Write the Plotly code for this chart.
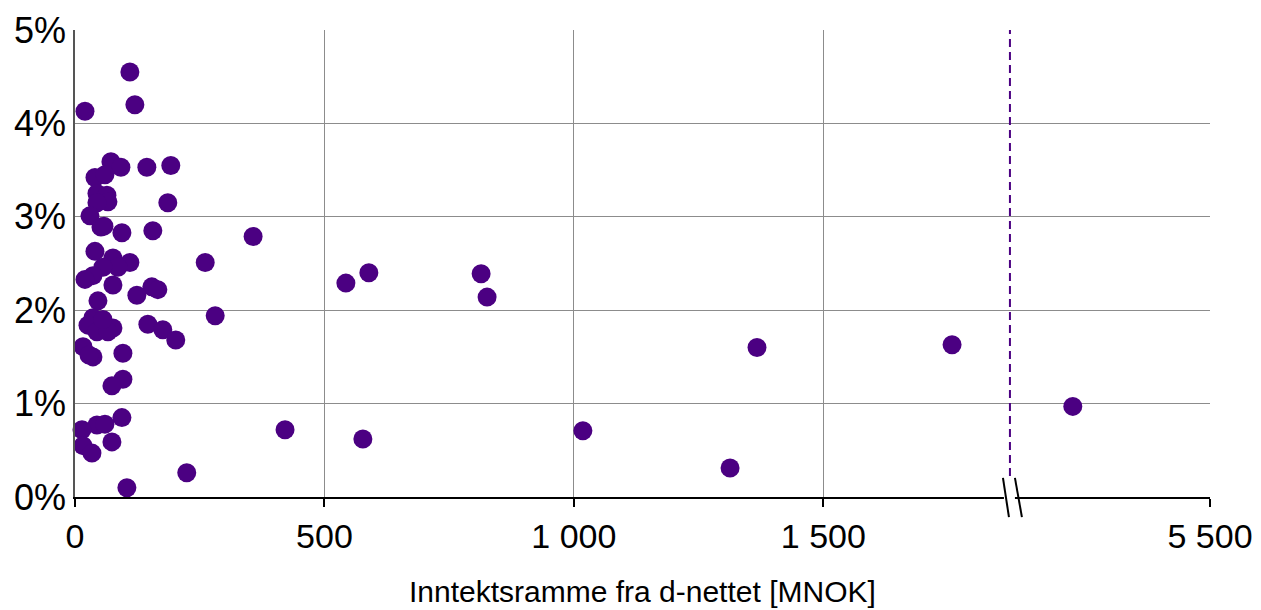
import plotly.graph_objects as go

# Inntektsramme (MNOK, axis units; values beyond the break are placed on the compressed segment)
x_vals = [20, 110, 120, 72, 92, 144, 192, 40, 60, 44, 64, 66, 44, 186, 30, 52, 58, 94, 156, 357,
          40, 261, 76, 110, 86, 56, 36, 20, 589, 814, 543, 826, 154, 166, 124, 76, 46, 281, 36, 146,
          176, 202, 26, 76, 44, 66, 56, 16, 36, 28, 96, 1367, 1758, 96, 74, 2000, 94, 44, 60, 421,
          1018, 14, 577, 74, 16, 34, 1313, 224, 104]
# Share in percent
y_vals = [4.13, 4.55, 4.20, 3.59, 3.53, 3.53, 3.55, 3.42, 3.45, 3.25, 3.23, 3.16, 3.15, 3.15, 3.01, 2.89, 2.90, 2.83, 2.85, 2.79,
          2.63, 2.51, 2.56, 2.51, 2.46, 2.46, 2.37, 2.33, 2.40, 2.39, 2.29, 2.14, 2.25, 2.22, 2.16, 2.27, 2.10, 1.94, 1.92, 1.85,
          1.79, 1.68, 1.84, 1.81, 1.77, 1.77, 1.90, 1.61, 1.50, 1.52, 1.54, 1.60, 1.63, 1.26, 1.19, 0.97, 0.85, 0.77, 0.78, 0.72,
          0.71, 0.72, 0.62, 0.59, 0.55, 0.47, 0.31, 0.26, 0.10]

x_tickvals = [0, 500, 1000, 1500, 2275]
x_ticktext = ["0", "500", "1 000", "1 500", "5 500"]
y_tickvals = [0, 1, 2, 3, 4, 5]
y_ticktext = ["0%", "1%", "2%", "3%", "4%", "5%"]
break_x = 1874
x_max = 2275

color = "#4B0082"
font = "Liberation Sans, Arial, sans-serif"

fig = go.Figure()
fig.add_trace(go.Scatter(
    x=x_vals, y=y_vals, mode="markers",
    marker=dict(size=19, color=color, line=dict(width=0)),
    cliponaxis=False, showlegend=False,
))

# dashed reference line at break
fig.add_shape(type="line", xref="x", yref="paper", x0=break_x, x1=break_x, y0=0.045, y1=1,
              line=dict(color=color, width=2, dash="8px,5px"))
# break marks
fig.add_shape(type="path", xref="x", yref="paper",
              path=f"M {break_x-12},0.03 L {break_x+10},0.03 L {break_x+10},-0.03 L {break_x-12},-0.03 Z",
              fillcolor="white", line=dict(width=0))
for x0, x1 in [(1860, 1872), (1884, 1898)]:
    fig.add_shape(type="line", xref="x", yref="paper", x0=x0, x1=x1, y0=0.041, y1=-0.043,
                  line=dict(color="black", width=2))

fig.add_annotation(text="Inntektsramme fra d-nettet [MNOK]", xref="paper", yref="paper",
                   x=0.5, y=-0.202, yanchor="middle", xanchor="center", showarrow=False,
                   font=dict(family=font, size=30, color="black"))

fig.update_layout(
    width=1261, height=610,
    margin=dict(l=75, r=51, t=30, b=113, autoexpand=False),
    paper_bgcolor="white", plot_bgcolor="white",
    font=dict(family=font, color="black"),
    xaxis=dict(range=[0, x_max], tickvals=x_tickvals, ticktext=x_ticktext,
               showgrid=True, gridcolor="#8c8c8c", gridwidth=1,
               showline=True, linecolor="black", linewidth=2,
               ticks="outside", ticklen=8, tickwidth=1.5, tickcolor="black",
               tickfont=dict(size=34, family=font), zeroline=False, fixedrange=True),
    yaxis=dict(range=[0, 5], tickvals=y_tickvals, ticktext=y_ticktext,
               showgrid=True, gridcolor="#8c8c8c", gridwidth=1,
               showline=True, linecolor="#555555", linewidth=1.5,
               ticks="", tickfont=dict(size=36, family=font), zeroline=False, fixedrange=True),
)

fig.write_html("out.html", config={"displayModeBar": False},
               post_script="document.body.style.margin='0';document.body.style.overflow='hidden';")
